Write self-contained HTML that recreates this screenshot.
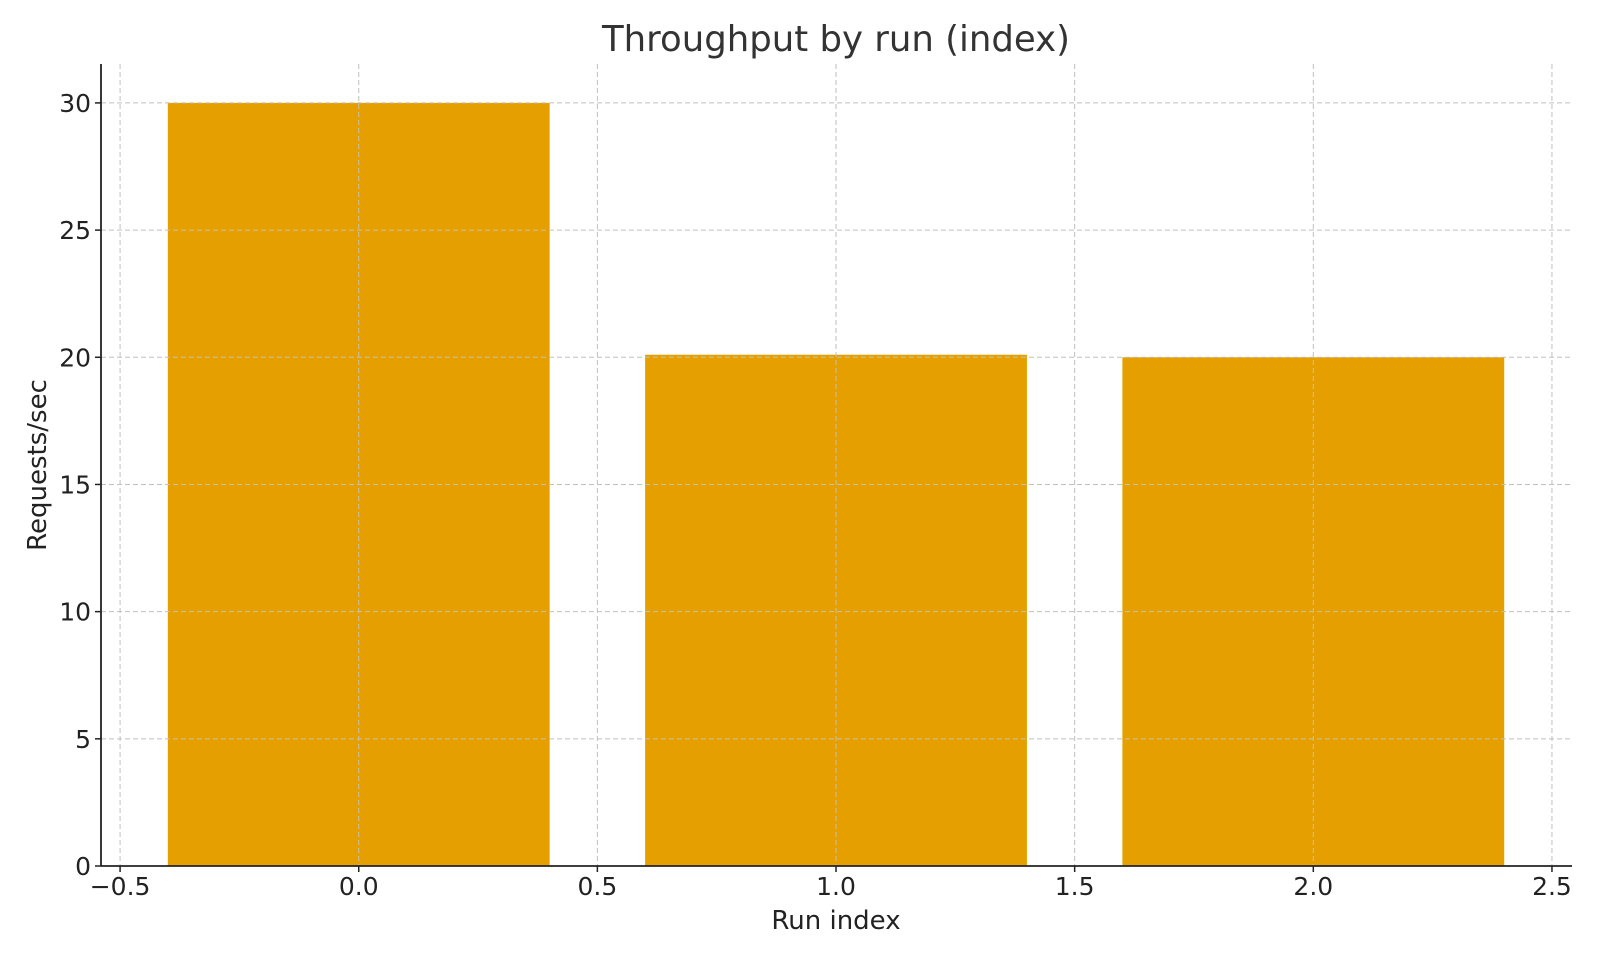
<!DOCTYPE html>
<html><head><meta charset="utf-8"><style>
body{margin:0;background:#fff;}
svg text{font-family:"DejaVu Sans","Liberation Sans",sans-serif;fill:#222;}
</style></head><body>
<svg id="chart" width="1600" height="960" xmlns="http://www.w3.org/2000/svg">
<text x="836" y="51" text-anchor="middle" font-size="35.5" style="fill:#333">Throughput by run (index)</text>
<g id="bars"></g>
<g id="grid"></g>
<g id="axes"></g>
<text x="836" y="929" text-anchor="middle" font-size="26">Run index</text>
<text transform="translate(46,465) rotate(-90)" text-anchor="middle" font-size="26">Requests/sec</text>
</svg>
<script>
const categories=[0,1,2];
const values=[30,20.1,20.0];
const xTicks=[-0.5,0,0.5,1,1.5,2,2.5];
const xTickLabels=["\u22120.5","0.0","0.5","1.0","1.5","2.0","2.5"];
const yTicks=[0,5,10,15,20,25,30];
const NS="http://www.w3.org/2000/svg";
const L=101,R=1572,T=64,B=866;
const xMin=-0.54,xMax=2.542,yMax=31.53;
const xs=v=>L+(v-xMin)/(xMax-xMin)*(R-L);
const ys=v=>B-v/yMax*(B-T);
function mk(tag,attrs,parent){const e=document.createElementNS(NS,tag);for(const k in attrs)e.setAttribute(k,attrs[k]);parent.appendChild(e);return e;}
const bars=document.getElementById('bars'),grid=document.getElementById('grid'),axes=document.getElementById('axes');
categories.forEach((c,i)=>{
 const r=mk('rect',{x:xs(c-0.4),y:ys(values[i]),width:xs(c+0.4)-xs(c-0.4),height:B-ys(values[i]),fill:'#e5a000'},bars);
 
 
});
xTicks.forEach((t,i)=>{
 const g=mk('line',{x1:xs(t),x2:xs(t),y1:T,y2:B,stroke:'#c0c0c0','stroke-dasharray':'5,3','stroke-width':1},grid);
 
 
 mk('line',{x1:xs(t),x2:xs(t),y1:B,y2:B+6,stroke:'#222','stroke-width':1.5},axes);
 const tx=mk('text',{x:xs(t),y:B+29,'text-anchor':'middle','font-size':25},axes);
 tx.textContent=xTickLabels[i];
 
 
});
yTicks.forEach(t=>{
 const g=mk('line',{x1:L,x2:R,y1:ys(t),y2:ys(t),stroke:'#c0c0c0','stroke-dasharray':'5,3','stroke-width':1},grid);
 
 
 mk('line',{x1:L-6,x2:L,y1:ys(t),y2:ys(t),stroke:'#222','stroke-width':1.5},axes);
 const tx=mk('text',{x:L-10,y:ys(t)+9,'text-anchor':'end','font-size':25},axes);
 tx.textContent=String(t);
 
 
});
mk('line',{x1:L,x2:L,y1:T,y2:B,stroke:'#222','stroke-width':1.8},axes);
mk('line',{x1:L,x2:R,y1:B,y2:B,stroke:'#222','stroke-width':1.8},axes);
</script>
</body></html>
